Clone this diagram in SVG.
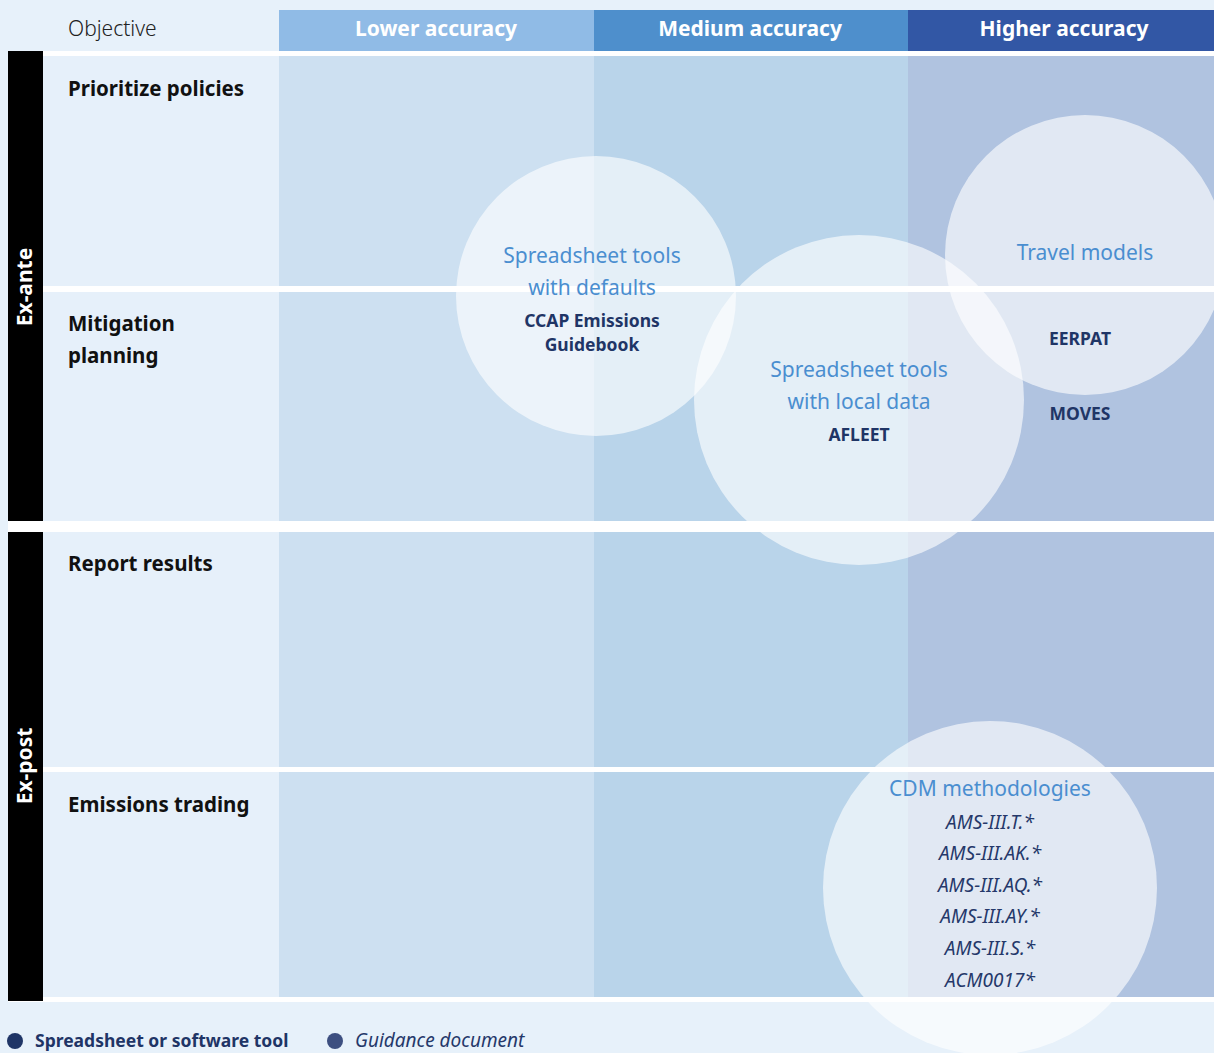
<svg xmlns="http://www.w3.org/2000/svg" width="1214" height="1053" viewBox="0 0 1214 1053">
<style>
.c0{fill:#e6f0fa}.c1{fill:#cde0f1}.c2{fill:#b9d4ea}.c3{fill:#b0c3e0}
.hd{font-family:"Noto Sans","Open Sans",sans-serif;font-weight:bold;font-size:21px;fill:#fff;text-anchor:middle}
.row{font-family:"Noto Sans","Open Sans",sans-serif;font-weight:bold;font-size:20.5px;fill:#111}
.side{font-family:"Noto Sans","Open Sans",sans-serif;font-weight:bold;font-size:21px;fill:#fff;text-anchor:middle}
.bub{fill:#fff;fill-opacity:0.62}
.cat{font-family:"Noto Sans","Open Sans",sans-serif;font-size:21px;fill:#4a8ed0;text-anchor:middle}
.tool{font-family:"Noto Sans","Open Sans",sans-serif;font-weight:bold;font-size:17.5px;fill:#1f3566;text-anchor:middle}
.guide{font-family:"Noto Sans","Open Sans",sans-serif;font-style:italic;font-size:19px;fill:#25386a;text-anchor:middle}
</style>
<rect x="0" y="0" width="1214" height="1053" fill="#e7f1fa"/>
<g id="grid">
<rect x="8" y="51" width="1206" height="951" fill="#fff"/>
<rect x="279" y="10" width="315" height="41" fill="#90bbe6"/>
<rect x="594" y="10" width="314" height="41" fill="#4e8fcc"/>
<rect x="908" y="10" width="306" height="41" fill="#3257a5"/>
<g>
<rect class="c0" x="43" y="56" width="236" height="230"/><rect class="c1" x="279" y="56" width="315" height="230"/><rect class="c2" x="594" y="56" width="314" height="230"/><rect class="c3" x="908" y="56" width="306" height="230"/>
<rect class="c0" x="43" y="292" width="236" height="229"/><rect class="c1" x="279" y="292" width="315" height="229"/><rect class="c2" x="594" y="292" width="314" height="229"/><rect class="c3" x="908" y="292" width="306" height="229"/>
<rect class="c0" x="43" y="532" width="236" height="235"/><rect class="c1" x="279" y="532" width="315" height="235"/><rect class="c2" x="594" y="532" width="314" height="235"/><rect class="c3" x="908" y="532" width="306" height="235"/>
<rect class="c0" x="43" y="772" width="236" height="225"/><rect class="c1" x="279" y="772" width="315" height="225"/><rect class="c2" x="594" y="772" width="314" height="225"/><rect class="c3" x="908" y="772" width="306" height="225"/>
</g>
<rect x="8" y="51" width="35" height="470" fill="#000"/>
<rect x="8" y="532" width="35" height="469" fill="#000"/>
</g>
<g id="header">
<text x="68" y="36" font-family="Noto Sans, Open Sans, sans-serif" font-size="21" font-weight="300" fill="#222">Objective</text>
<text class="hd" x="436" y="36">Lower accuracy</text>
<text class="hd" x="750" y="36">Medium accuracy</text>
<text class="hd" x="1064" y="36">Higher accuracy</text>
</g>
<g id="side-labels">
<text class="side" transform="translate(32,287) rotate(-90)">Ex-ante</text>
<text class="side" transform="translate(32,766) rotate(-90)">Ex-post</text>
</g>
<g id="rows">
<text class="row" x="68" y="96">Prioritize policies</text>
<text class="row" x="68" y="331">Mitigation</text>
<text class="row" x="68" y="363">planning</text>
<text class="row" x="68" y="571">Report results</text>
<text class="row" x="68" y="812">Emissions trading</text>
</g>
<g id="connectors"></g>
<g id="node-defaults">
<circle class="bub" cx="596" cy="296" r="140"/>
<text class="cat" x="592" y="263">Spreadsheet tools</text>
<text class="cat" x="592" y="295">with defaults</text>
<text class="tool" x="592" y="327">CCAP Emissions</text>
<text class="tool" x="592" y="351">Guidebook</text>
</g>
<g id="node-local">
<circle class="bub" cx="859" cy="400" r="165"/>
<text class="cat" x="859" y="377">Spreadsheet tools</text>
<text class="cat" x="859" y="409">with local data</text>
<text class="tool" x="859" y="441">AFLEET</text>
</g>
<g id="node-travel">
<circle class="bub" cx="1085" cy="255" r="140"/>
<text class="cat" x="1085" y="260">Travel models</text>
<text class="tool" x="1080" y="345">EERPAT</text>
<text class="tool" x="1080" y="420">MOVES</text>
</g>
<g id="node-cdm">
<circle class="bub" cx="990" cy="888" r="167"/>
<text class="cat" x="990" y="796">CDM methodologies</text>
<text class="guide" x="990" y="829">AMS-III.T.*</text>
<text class="guide" x="990" y="860">AMS-III.AK.*</text>
<text class="guide" x="990" y="892">AMS-III.AQ.*</text>
<text class="guide" x="990" y="923">AMS-III.AY.*</text>
<text class="guide" x="990" y="955">AMS-III.S.*</text>
<text class="guide" x="990" y="987">ACM0017*</text>
</g>
<g id="legend">
<circle cx="15" cy="1041" r="8" fill="#1f3566"/>
<text x="35" y="1047" font-family="Noto Sans, Open Sans, sans-serif" font-size="17.5" font-weight="bold" fill="#1f3566">Spreadsheet or software tool</text>
<circle cx="335" cy="1041" r="8" fill="#3d4f80"/>
<text x="355" y="1047" font-family="Noto Sans, Open Sans, sans-serif" font-size="19" font-style="italic" fill="#25386a">Guidance document</text>
</g>
</svg>
